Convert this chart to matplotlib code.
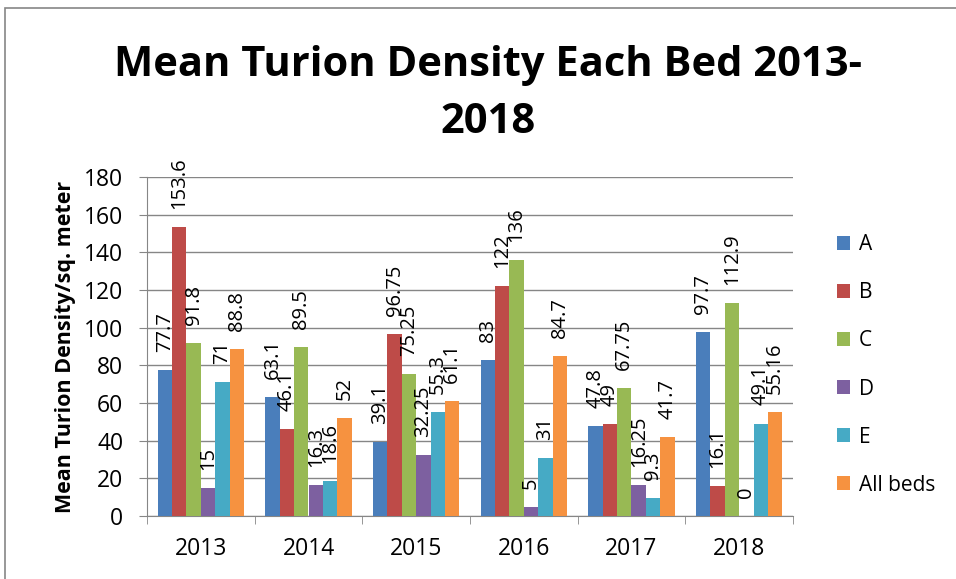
import matplotlib
matplotlib.use('Agg')
import matplotlib.pyplot as plt
import numpy as np
from matplotlib.patches import Rectangle

plt.rcParams['font.family'] = ['Open Sans', 'DejaVu Sans']

years = ['2013', '2014', '2015', '2016', '2017', '2018']
series = ['A', 'B', 'C', 'D', 'E', 'All beds']
A = [77.7, 63.1, 39.1, 83, 47.8, 97.7]
B = [153.6, 46.1, 96.75, 122, 49, 16.1]
C = [91.8, 89.5, 75.25, 136, 67.75, 112.9]
D = [15, 16.3, 32.25, 5, 16.25, 0]
E = [71, 18.6, 55.3, 31, 9.3, 49.1]
all_beds = [88.8, 52, 61.1, 84.7, 41.7, 55.16]
values = [A, B, C, D, E, all_beds]
colors = ['#4A7EBB', '#BE4B48', '#98B954', '#7D60A0', '#46AAC5', '#F69240']

fig = plt.figure(figsize=(9.56, 5.79), dpi=100)
ax = fig.add_axes([147/956, 1-516/579, (793-147)/956, (516-177)/579])

x = np.arange(len(years))
w = 0.8 / len(series)
for i, (name, vals) in enumerate(zip(series, values)):
    pos = x - 0.4 + w * (i + 0.5)
    ax.bar(pos, vals, width=w, color=colors[i], label=name, zorder=3)
    for p, v in zip(pos, vals):
        ax.annotate(f'{v:g}', (p, v), xytext=(0, 13), textcoords='offset points',
                    rotation=90, ha='center', va='bottom', fontsize=14.5, zorder=4)

ax.set_xlim(-0.5, len(years) - 0.5)
ax.set_ylim(0, 180)
ax.set_yticks(range(0, 181, 20))
ax.set_xticks(x)
ax.set_xticklabels(years, fontsize=16.5)
ax.tick_params(axis='y', labelsize=16.5, length=6, color='#868686', pad=11)
ax.tick_params(axis='x', length=0, pad=15)
# category boundary ticks
ax.set_xticks(np.arange(-0.5, len(years)), minor=True)
ax.tick_params(axis='x', which='minor', length=6, color='#868686')
ax.grid(axis='y', color='#868686', linewidth=1, zorder=0)
for s in ['top', 'right']:
    ax.spines[s].set_visible(False)
for s in ['left', 'bottom']:
    ax.spines[s].set_color('#868686')

ax.set_ylabel('Mean Turion Density/sq. meter', fontsize=15.5, fontweight='bold', labelpad=6)

fig.text(488/956, 1-94/579, 'Mean Turion Density Each Bed 2013-\n2018', ha='center', va='center',
         fontsize=30, fontweight='bold', linespacing=1.5)

ax.legend(loc='center left', bbox_to_anchor=(818/956, 1-365/579), bbox_transform=fig.transFigure,
          frameon=False, fontsize=15, handlelength=0.65, handleheight=0.65,
          labelspacing=1.3, handletextpad=0.4)

fig.patches.append(Rectangle((5/956, -0.01), 2, 1 - 8/579 + 0.01, transform=fig.transFigure,
                             fill=False, edgecolor='#868686', linewidth=1.2))

fig.savefig('out.png', dpi=100)
